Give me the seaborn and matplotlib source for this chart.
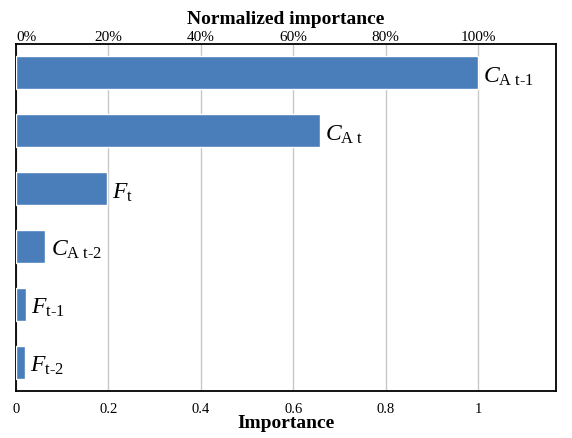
import matplotlib
matplotlib.use("Agg")
import matplotlib.pyplot as plt
import seaborn as sns
import pandas as pd

variables = ["CA_t-1", "CA_t", "F_t", "CA_t-2", "F_t-1", "F_t-2"]
labels = [r"$C_{\mathrm{A\ t}\text{-}\mathrm{1}}$", r"$C_{\mathrm{A\ t}}$", r"$F_{\mathrm{t}}$",
          r"$C_{\mathrm{A\ t}\text{-}\mathrm{2}}$", r"$F_{\mathrm{t}\text{-}\mathrm{1}}$", r"$F_{\mathrm{t}\text{-}\mathrm{2}}$"]
importance = [1.0, 0.658, 0.196, 0.063, 0.021, 0.019]
bottom_ticks = [0, 0.2, 0.4, 0.6, 0.8, 1.0]
bottom_ticklabels = ["0", "0.2", "0.4", "0.6", "0.8", "1"]
top_ticklabels = ["0%", "20%", "40%", "60%", "80%", "100%"]

sns.set_style("white")
plt.rcParams["font.family"] = ["Liberation Serif", "DejaVu Serif"]
plt.rcParams["mathtext.fontset"] = "custom"
plt.rcParams["mathtext.rm"] = "Liberation Serif"
plt.rcParams["mathtext.it"] = "Liberation Serif:italic"
plt.rcParams["mathtext.bf"] = "Liberation Serif:bold"
plt.rcParams["text.color"] = "black"
plt.rcParams["axes.labelcolor"] = "black"
plt.rcParams["xtick.color"] = "black"

df = pd.DataFrame({"var": variables, "imp": importance})

fig = plt.figure(figsize=(5.72, 4.39), dpi=100)
ax = fig.add_axes([16/572, 1 - 392/439, 540/572, 347/439])
sns.barplot(data=df, y="var", x="imp", orient="h", color="#4a7ebb", saturation=1,
            width=0.57, ax=ax, zorder=3)
ax.set_xlim(0, 1.169)
ax.set_ylim(5.5, -0.5)
ax.set_yticks([])
ax.set_ylabel("")
ax.set_xticks(bottom_ticks)
ax.set_xticklabels(bottom_ticklabels, fontsize=10.5)
ax.set_xlabel("Importance", fontsize=14, fontweight="bold", labelpad=-1)
ax.tick_params(axis="x", length=0, pad=8)
ax.grid(axis="x", color="#c8c8c8", linewidth=1, zorder=0)
ax.set_axisbelow(True)
for s in ax.spines.values():
    s.set_color("black")
    s.set_linewidth(1.3)

for i, (v, lab) in enumerate(zip(importance, labels)):
    ax.text(v + 0.012, i + 0.05, lab, fontsize=17, va="center", ha="left")

ax2 = ax.twiny()
ax2.set_xlim(ax.get_xlim())
ax2.set_xticks(bottom_ticks)
ax2.set_xticklabels(top_ticklabels, fontsize=11)
ax2.tick_params(axis="x", length=0, pad=1)
tl = ax2.get_xticklabels()
tl[0].set_horizontalalignment("left")
tl[0].set_x(0.006)
ax2.set_xlabel("Normalized importance", fontsize=14, fontweight="bold", labelpad=5)
for s in ax2.spines.values():
    s.set_visible(False)

fig.savefig("out.png", dpi=100)
